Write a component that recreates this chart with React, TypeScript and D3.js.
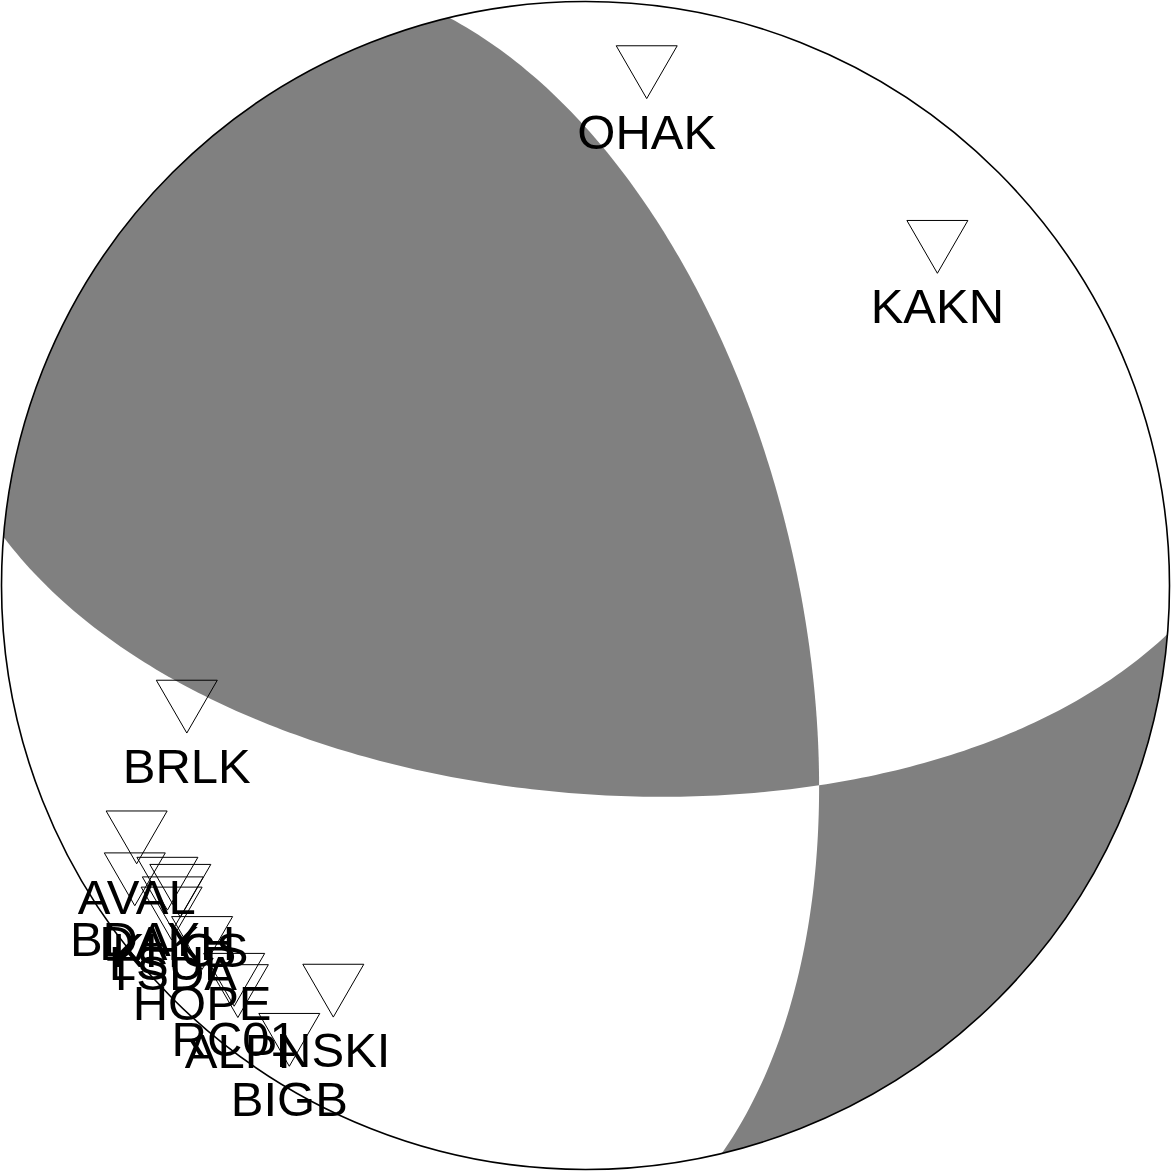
import React, { useRef, useEffect } from "react";
import * as d3 from "d3";

// nodal plane 1: strike, dip, rake (degrees)
const nodalPlane = [346.5, 60.7, 146.0];

// stations: azimuth (deg from N) and takeoff angle (deg from down)
const stationNames = ["OHAK", "KAKN", "BRLK", "AVAL", "BDAY", "DAKH", "KHCS", "LSUP", "TSDA", "HOPE", "RC01", "ALPI", "NSKI", "BIGB"];
const stationAzimuths = [6.8, 46.1, 253.1, 240.7, 236.9, 234.5, 233.0, 232.4, 231.6, 227.0, 221.7, 220.6, 211.9, 213.1];
const stationTakeoffs = [77.5, 72.5, 60.6, 77.1, 81.3, 76.9, 75.8, 78.2, 79.5, 78.8, 79.5, 80.6, 70.6, 82.1];

const rad = Math.PI / 180;

function cross(a: number[], b: number[]) {
  return [a[1] * b[2] - a[2] * b[1], a[2] * b[0] - a[0] * b[2], a[0] * b[1] - a[1] * b[0]];
}

// NED vector -> [lon, lat], down = south pole
function toLonLat(v: number[]): [number, number] {
  const len = Math.hypot(v[0], v[1], v[2]);
  const z = Math.max(-1, Math.min(1, v[2] / len));
  return [Math.atan2(v[1], v[0]) / rad, -Math.asin(z) / rad];
}

// the two tension (compressional first motion) lunes on the sphere
function luneRings(strike: number, dip: number, rake: number) {
  const s = strike * rad, d = dip * rad, r = rake * rad;
  const n = [-Math.sin(d) * Math.sin(s), Math.sin(d) * Math.cos(s), -Math.cos(d)];
  const u = [
    Math.cos(r) * Math.cos(s) + Math.sin(r) * Math.cos(d) * Math.sin(s),
    Math.cos(r) * Math.sin(s) - Math.sin(r) * Math.cos(d) * Math.cos(s),
    -Math.sin(r) * Math.sin(d),
  ];
  const b = cross(n, u);
  const rings: [number, number][][] = [];
  for (const sign of [1, -1]) {
    const ring: [number, number][] = [];
    for (let t = 0; t <= 180; t += 1) {
      const c = Math.cos(t * rad), sn = Math.sin(t * rad);
      ring.push(toLonLat([0, 1, 2].map(i => sign * (b[i] * c + u[i] * sn))));
    }
    for (let t = 1; t < 180; t += 1) {
      const c = Math.cos(t * rad), sn = Math.sin(t * rad);
      ring.push(toLonLat([0, 1, 2].map(i => sign * (-b[i] * c + n[i] * sn))));
    }
    ring.push(ring[0]);
    rings.push(ring);
  }
  return rings;
}

export default function App() {
  const svgRef = useRef<SVGSVGElement>(null);

  useEffect(() => {
    if (!svgRef.current) return;
    const svg = d3.select(svgRef.current);
    svg.selectAll("*").remove();

    const cx = 585.5, cy = 585.5, R = 584;

    // lower hemisphere, equal area
    const projection = d3.geoAzimuthalEqualArea()
      .rotate([0, 90])
      .clipAngle(90)
      .scale(R / Math.SQRT2)
      .translate([cx, cy]);
    const path = d3.geoPath(projection);

    svg.append("circle")
      .attr("cx", cx).attr("cy", cy).attr("r", R)
      .attr("fill", "#ffffff");

    luneRings(nodalPlane[0], nodalPlane[1], nodalPlane[2]).forEach(ring => {
      let feature: any = { type: "Polygon", coordinates: [ring] };
      if (d3.geoArea(feature) > 2 * Math.PI) {
        feature = { type: "Polygon", coordinates: [ring.slice().reverse()] };
      }
      svg.append("path")
        .attr("d", path(feature) || "")
        .attr("fill", "#808080")
        .attr("stroke", "none");
    });

    svg.append("circle")
      .attr("cx", cx).attr("cy", cy).attr("r", R)
      .attr("fill", "none")
      .attr("stroke", "#000")
      .attr("stroke-width", 1.6);

    // stations
    const side = 61;
    const h = side * Math.sqrt(3) / 2;
    stationNames.forEach((name, i) => {
      const p = projection([stationAzimuths[i], -(90 - stationTakeoffs[i])]);
      if (!p) return;
      const [x, y] = p;
      svg.append("path")
        .attr("d", `M${x - side / 2},${y - h / 2}L${x + side / 2},${y - h / 2}L${x},${y + h / 2}Z`)
        .attr("fill", "none")
        .attr("stroke", "#000")
        .attr("stroke-width", 1);
      svg.append("text")
        .attr("x", x)
        .attr("y", y + 76.5)
        .attr("text-anchor", "middle")
        .style("font-family", "'Liberation Sans', Arial, sans-serif")
        .style("font-size", "49px")
        .style("fill", "#000")
        .text(name);
    });
  }, []);

  return (
    <div style={{ position: "absolute", left: 0, top: 0, width: 1171, height: 1171, background: "#fff" }}>
      <svg ref={svgRef} width={1171} height={1171} />
    </div>
  );
}
